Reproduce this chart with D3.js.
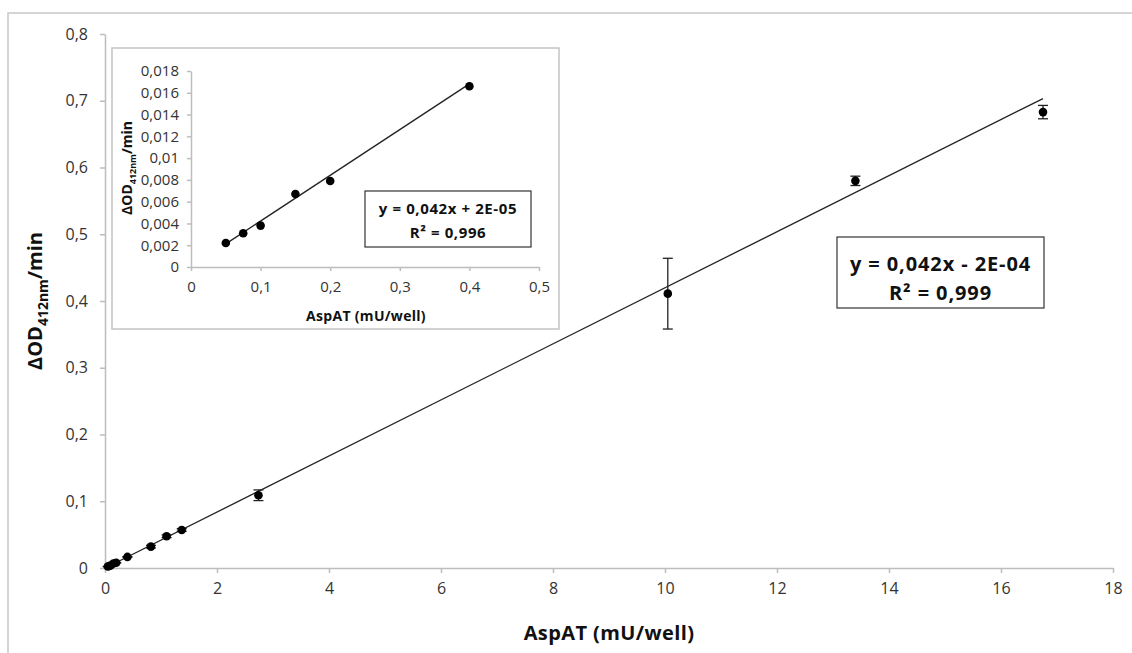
<!DOCTYPE html>
<html><head><meta charset="utf-8">
<script src="https://cdn.jsdelivr.net/npm/d3@7"></script>
<style>body{margin:0;background:#fff}svg{display:block}text{font-family:"Open Sans",sans-serif}</style>
</head><body><svg id="c" width="1132" height="653"></svg>
<script>
// Main chart data
const mainX = [0.05, 0.075, 0.1, 0.15, 0.2, 0.4, 0.82, 1.1, 1.37, 2.74, 10.05, 13.4, 16.75];
const mainY = [0.0022, 0.0031, 0.0038, 0.0067, 0.0079, 0.0166, 0.032, 0.0475, 0.057, 0.109, 0.411, 0.580, 0.683];
const mainErr = [0.0002, 0.0002, 0.0002, 0.0002, 0.0002, 0.0003, 0.002, 0.002, 0.002, 0.008, 0.053, 0.007, 0.010];
const mainXTicks = [0, 2, 4, 6, 8, 10, 12, 14, 16, 18];
const mainYTicks = [0, 0.1, 0.2, 0.3, 0.4, 0.5, 0.6, 0.7, 0.8];
const mainFit = {slope: 0.042, intercept: -0.0002, x0: 0.05, x1: 16.75};
const mainEqLines = ["y = 0,042x - 2E-04", "R² = 0,999"];

// Inset data
const insetX = [0.05, 0.075, 0.1, 0.15, 0.2, 0.4];
const insetY = [0.0022, 0.0031, 0.0038, 0.0067, 0.0079, 0.0166];
const insetErr = [0.0001, 0.0001, 0.0002, 0.0002, 0.0001, 0.0002];
const insetXTicks = [0, 0.1, 0.2, 0.3, 0.4, 0.5];
const insetYTicks = [0, 0.002, 0.004, 0.006, 0.008, 0.01, 0.012, 0.014, 0.016, 0.018];
const insetFit = {slope: 0.042, intercept: 0.00002, x0: 0.05, x1: 0.4};
const insetEqLines = ["y = 0,042x + 2E-05", "R² = 0,996"];

const fmt = v => String(+v.toFixed(4)).replace(".", ",");
const svg = d3.select("#c");
const axisCol = "#bdbdbd", textCol = "#333";

// outer frame
svg.append("path").attr("d", "M8,653 V13 H1132").attr("fill", "none").attr("stroke", "#c8c8c8").attr("stroke-width", 1.5);

function panel(g, cfg) {
  const x = d3.scaleLinear().domain(cfg.xd).range(cfg.xr);
  const y = d3.scaleLinear().domain(cfg.yd).range(cfg.yr);
  const xa = g.append("g").attr("transform", `translate(0,${cfg.yr[0]})`)
    .call(d3.axisBottom(x).tickValues(cfg.xt).tickFormat(fmt).tickSize(cfg.tick).tickSizeOuter(0).tickPadding(cfg.xpad));
  const ya = g.append("g").attr("transform", `translate(${cfg.xr[0]},0)`)
    .call(d3.axisLeft(y).tickValues(cfg.yt).tickFormat(fmt).tickSize(cfg.tick).tickSizeOuter(0).tickPadding(cfg.ypad));
  [xa, ya].forEach(a => {
    a.select(".domain").attr("stroke", axisCol).attr("stroke-width", 1.5);
    a.selectAll(".tick line").attr("stroke", axisCol).attr("stroke-width", 1.5);
    a.selectAll(".tick text").attr("fill", textCol).style("font-size", cfg.fs + "px");
  });
  // fit line
  const f = cfg.fit;
  g.append("line").attr("x1", x(f.x0)).attr("y1", y(f.slope * f.x0 + f.intercept))
    .attr("x2", x(f.x1)).attr("y2", y(f.slope * f.x1 + f.intercept))
    .attr("stroke", "#222").attr("stroke-width", 1.3);
  const data = cfg.xs.map((v, i) => ({x: v, y: cfg.ys[i], e: cfg.es[i]}));
  const eb = g.append("g").attr("stroke", "#222").attr("stroke-width", 1.3);
  data.forEach(d => {
    const cx = x(d.x), t = y(d.y + d.e), b = y(d.y - d.e);
    eb.append("line").attr("x1", cx).attr("x2", cx).attr("y1", t).attr("y2", b);
    eb.append("line").attr("x1", cx - cfg.cap).attr("x2", cx + cfg.cap).attr("y1", t).attr("y2", t);
    eb.append("line").attr("x1", cx - cfg.cap).attr("x2", cx + cfg.cap).attr("y1", b).attr("y2", b);
  });
  g.append("g").selectAll("circle").data(data).join("circle")
    .attr("cx", d => x(d.x)).attr("cy", d => y(d.y)).attr("r", cfg.r).attr("fill", "#000");
  return {x, y};
}

function ylabel(g, cx, cy, fs, sub) {
  const t = g.append("text").attr("transform", `translate(${cx},${cy}) rotate(-90)`)
    .attr("text-anchor", "middle").attr("font-weight", "bold").attr("fill", "#111").style("font-size", fs + "px");
  t.append("tspan").text("ΔOD");
  t.append("tspan").text("412nm").style("font-size", sub + "px").attr("dy", fs * 0.3);
  t.append("tspan").text("/min").attr("dy", -fs * 0.3);
}

function eqBox(g, x0, y0, w, h, lines, fs, ls, dy) {
  g.append("rect").attr("x", x0).attr("y", y0).attr("width", w).attr("height", h)
    .attr("fill", "#fff").attr("stroke", "#333").attr("stroke-width", 1.2);
  lines.forEach((l, i) => g.append("text").attr("x", x0 + w / 2).attr("y", y0 + dy[i])
    .attr("text-anchor", "middle").attr("font-weight", "bold").attr("fill", "#111")
    .style("font-size", fs + "px").style("letter-spacing", ls + "px").text(l));
}

// Main panel
const gm = svg.append("g");
panel(gm, {xd: [0, 18], xr: [105, 1113], yd: [0, 0.8], yr: [568, 34], xt: mainXTicks, yt: mainYTicks,
  tick: 5, xpad: 10, ypad: 12, fs: 16, fit: mainFit, xs: mainX, ys: mainY, es: mainErr, cap: 5, r: 4.3});
gm.append("text").attr("x", 609).attr("y", 640).attr("text-anchor", "middle").attr("font-weight", "bold")
  .attr("fill", "#111").style("font-size", "20px").style("letter-spacing", "0.4px").text("AspAT (mU/well)");
ylabel(gm, 42, 301, 20, 14);
eqBox(gm, 837, 237, 207, 71, mainEqLines, 20, 0.9, [34, 63]);

// Inset panel
const gi = svg.append("g");
gi.append("rect").attr("x", 112).attr("y", 48).attr("width", 447).attr("height", 281)
  .attr("fill", "#fff").attr("stroke", "#c4c4c4").attr("stroke-width", 1.5);
panel(gi, {xd: [0, 0.5], xr: [191, 539], yd: [0, 0.018], yr: [267, 71], xt: insetXTicks, yt: insetYTicks,
  tick: 4, xpad: 10, ypad: 8, fs: 15, fit: insetFit, xs: insetX, ys: insetY, es: insetErr, cap: 3, r: 4.3});
gi.append("text").attr("x", 366).attr("y", 321).attr("text-anchor", "middle").attr("font-weight", "bold")
  .attr("fill", "#111").style("font-size", "14px").style("letter-spacing", "0.3px").text("AspAT (mU/well)");
ylabel(gi, 132, 168, 14, 9);
eqBox(gi, 365, 191, 166, 56, insetEqLines, 15, 0.6, [23, 47]);
</script></body></html>
